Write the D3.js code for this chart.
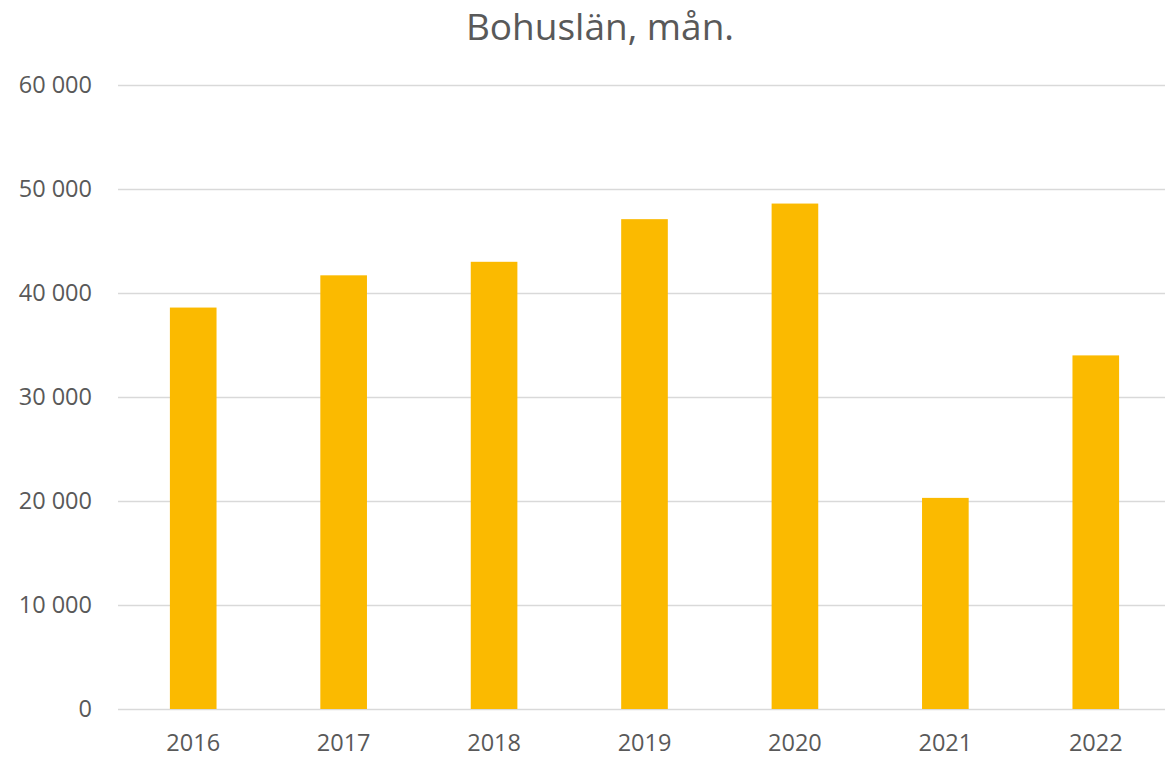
<!DOCTYPE html>
<html><head><meta charset="utf-8">
<script src="https://cdn.jsdelivr.net/npm/d3@7"></script>
<style>
html,body{margin:0;padding:0;background:#fff;}
text{font-family:"Open Sans",sans-serif;fill:#595959;}
</style></head>
<body>
<svg id="c" width="1165" height="757"></svg>
<script>
const title = "Bohuslän, mån.";
const years = ["2016","2017","2018","2019","2020","2021","2022"];
const values = [38600, 41700, 43000, 47100, 48600, 20300, 34000];
const yTicks = [0, 10000, 20000, 30000, 40000, 50000, 60000];

const svg = d3.select("#c");
const x = d3.scaleBand().domain(years).range([118, 1171]).paddingInner(0.69).paddingOuter(0.345);
const y = d3.scaleLinear().domain([0, 60000]).range([709, 85]);
const fmt = v => d3.format(",")(v).replace(/,/g, " ");

svg.append("text").attr("x", 600).attr("y", 40).attr("text-anchor", "middle")
  .style("font-size", "37px").text(title);

const yAxis = svg.append("g").attr("transform", "translate(118,0)")
  .call(d3.axisLeft(y).tickValues(yTicks).tickFormat(fmt).tickSize(-1047).tickPadding(26));
yAxis.select(".domain").remove();
yAxis.selectAll("line").attr("stroke", "#D9D9D9").attr("stroke-width", 1.5);
yAxis.selectAll("text").style("font-size", "23.5px").attr("fill", "#595959");

svg.append("g").selectAll("rect").data(values).join("rect")
  .attr("x", (d, i) => x(years[i])).attr("width", x.bandwidth())
  .attr("y", d => y(d)).attr("height", d => y(0) - y(d))
  .attr("fill", "#FBBA00");

const xAxis = svg.append("g").attr("transform", "translate(0,709)")
  .call(d3.axisBottom(x).tickSize(0).tickPadding(25));
xAxis.select(".domain").remove();
xAxis.selectAll("text").style("font-size", "23.5px").attr("fill", "#595959");
</script>
</body></html>
